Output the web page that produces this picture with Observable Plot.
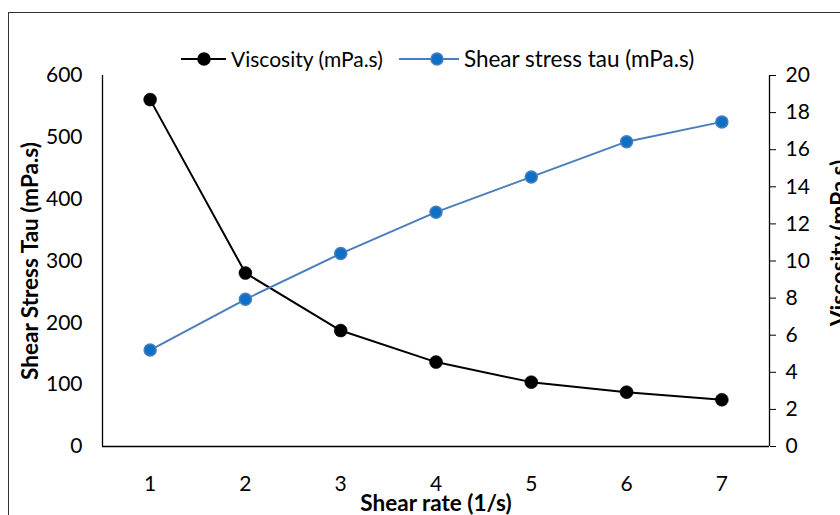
<!DOCTYPE html>
<html>
<head>
<meta charset="utf-8">
<script src="https://cdn.jsdelivr.net/npm/d3@7"></script>
<script src="https://cdn.jsdelivr.net/npm/@observablehq/plot@0.6"></script>
<style>
  html, body { margin: 0; padding: 0; background: #fff; overflow: hidden; }
  #wrap { position: relative; width: 840px; height: 515px; overflow: hidden; font-family: Lato, "Open Sans", sans-serif; }
  #border { position: absolute; left: 8px; top: 12px; width: 1000px; height: 1000px; border: 1.5px solid #333; box-sizing: border-box; }
  #chart { position: absolute; left: 0; top: 0; }
  #legend { position: absolute; left: 181px; top: 45px; display: flex; align-items: center; font-size: 21px; color: #000; white-space: nowrap; }
  #legend .item { display: flex; align-items: center; }
  #legend .item + .item { margin-left: 16px; }
</style>
</head>
<body>
<div id="wrap">
  <div id="border"></div>
  <div id="chart"></div>
  <div id="legend"></div>
</div>
<script>
// ---- data ----
const shearRate   = [1, 2, 3, 4, 5, 6, 7];                        // 1/s
const shearStress = [156, 238, 312, 379, 436, 493, 525];          // mPa.s (left axis)
const viscosity   = [18.7, 9.35, 6.25, 4.55, 3.47, 2.93, 2.52];   // mPa.s (right axis)
const leftTicks   = [0, 100, 200, 300, 400, 500, 600];
const rightTicks  = [0, 2, 4, 6, 8, 10, 12, 14, 16, 18, 20];
const seriesNames = ["Viscosity (mPa.s)", "Shear stress tau (mPa.s)"];
const axisTitles  = { x: "Shear rate (1/s)", left: "Shear Stress Tau (mPa.s)", right: "Viscosity (mPa.s)" };

const RATIO = d3.max(leftTicks) / d3.max(rightTicks); // right-axis units -> left-axis units
const rows = shearRate.map((r, i) => ({ rate: r, stress: shearStress[i], visc: viscosity[i] * RATIO }));
const xDomain = [d3.min(shearRate) - 0.5, d3.max(shearRate) + 0.5];

const BLACK = "#000";
const BLUE_LINE = "#4a7ebb";
const BLUE_DOT = "#0f6fc6";
const FS = 21;
const TFS = 22.5;

const chart = Plot.plot({
  width: 840,
  height: 515,
  marginLeft: 102,
  marginRight: 71,
  marginTop: 75,
  marginBottom: 69,
  style: { fontFamily: "Lato, 'Open Sans', sans-serif", background: "transparent", overflow: "visible" },
  x: { domain: xDomain },
  y: { domain: [0, d3.max(leftTicks)] },
  marks: [
    // axis frame lines
    Plot.ruleX(xDomain, { y1: 0, y2: d3.max(leftTicks), stroke: "#000", strokeWidth: 1.3 }),
    Plot.ruleY([0], { x1: xDomain[0], x2: xDomain[1], stroke: "#000", strokeWidth: 1.3 }),
    // axes
    Plot.axisX(shearRate, { tickSize: 0, tickPadding: 30, fontSize: FS, label: null }),
    Plot.axisY(leftTicks, { anchor: "left", tickSize: 0, tickPadding: 20, fontSize: FS, label: null }),
    Plot.axisY(rightTicks.map(v => v * RATIO), {
      anchor: "right", tickSize: 6, tickPadding: 10, fontSize: FS, label: null,
      tickFormat: d => String(Math.round(d / RATIO)), stroke: "#000"
    }),
    // axis titles
    Plot.text([axisTitles.x], { frameAnchor: "bottom", dy: 57, lineAnchor: "middle", textAnchor: "middle", fontSize: TFS, fontWeight: "bold" }),
    Plot.text([axisTitles.left], { frameAnchor: "left", dx: -72, rotate: -90, textAnchor: "middle", lineAnchor: "middle", fontSize: TFS, fontWeight: "bold" }),
    Plot.text([axisTitles.right], { frameAnchor: "right", dx: 70, dy: -18, rotate: -90, textAnchor: "middle", lineAnchor: "middle", fontSize: TFS, fontWeight: "bold" }),
    // viscosity series (black)
    Plot.line(rows, { x: "rate", y: "visc", stroke: BLACK, strokeWidth: 2 }),
    Plot.dot(rows, { x: "rate", y: "visc", r: 6.5, fill: BLACK, stroke: BLACK, strokeWidth: 0.5 }),
    // shear stress series (blue)
    Plot.line(rows, { x: "rate", y: "stress", stroke: BLUE_LINE, strokeWidth: 2 }),
    Plot.dot(rows, { x: "rate", y: "stress", r: 6, fill: BLUE_DOT, stroke: BLUE_LINE, strokeWidth: 1.5 })
  ]
});
document.getElementById("chart").appendChild(chart);

// legend
const legend = document.getElementById("legend");
const swatches = [
  { name: seriesNames[0], line: BLACK, fill: BLACK, stroke: BLACK, w: 45, cx: 23, gap: 5, size: 21 },
  { name: seriesNames[1], line: BLUE_LINE, fill: BLUE_DOT, stroke: BLUE_LINE, w: 60, cx: 38, gap: 5, size: 22.5 }
];
for (const s of swatches) {
  const item = document.createElement("div");
  item.className = "item";
  item.innerHTML =
    `<svg width="${s.w}" height="16" viewBox="0 0 ${s.w} 16" style="margin-right:${s.gap}px">
       <line x1="0" y1="8" x2="${s.w}" y2="8" stroke="${s.line}" stroke-width="2"/>
       <circle cx="${s.cx}" cy="8" r="6" fill="${s.fill}" stroke="${s.stroke}" stroke-width="1.5"/>
     </svg><span style="font-size:${s.size}px">${s.name}</span>`;
  legend.appendChild(item);
}
</script>
</body>
</html>
